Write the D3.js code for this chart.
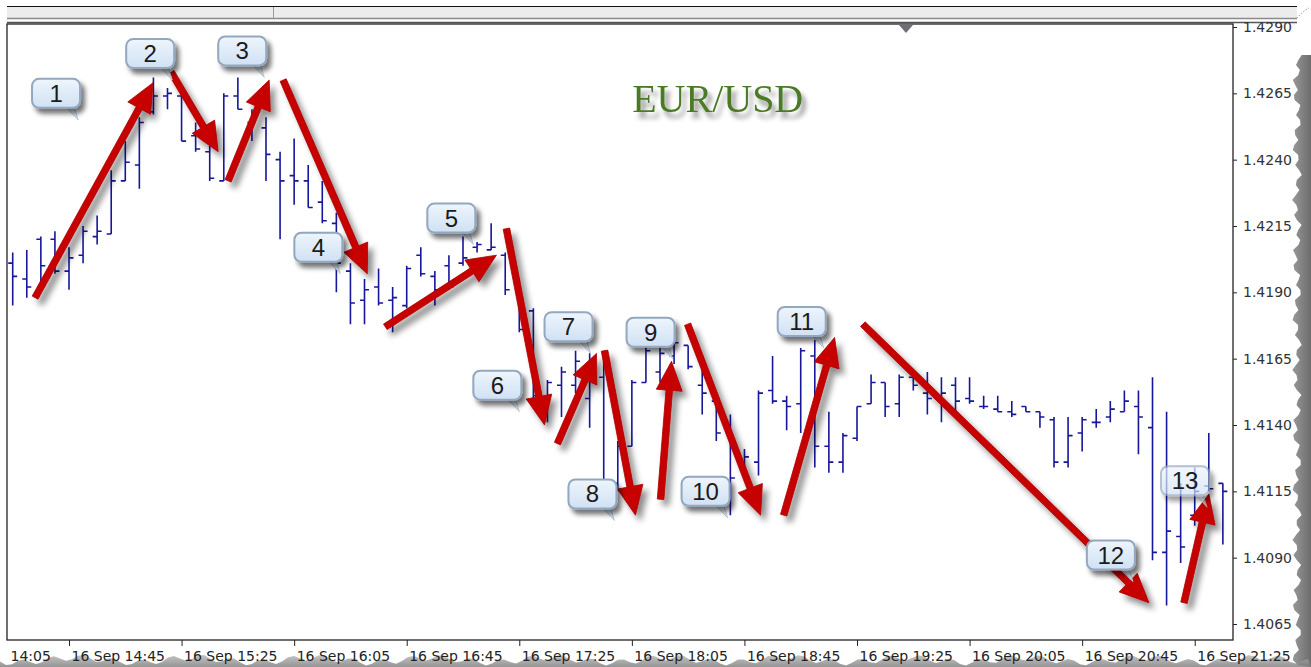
<!DOCTYPE html>
<html><head><meta charset="utf-8">
<script src="https://cdn.jsdelivr.net/npm/d3@7"></script>
<style>html,body{margin:0;padding:0;background:#fff;overflow:hidden}svg{display:block}</style>
</head><body>
<svg id="c" width="1311" height="667"></svg>
<script>
// ---------------- DATA ----------------
const chartTitle = "EUR/USD";
const barTimes = ["14:25","14:30","14:35","14:40","14:45","14:50","14:55",
"15:00","15:05","15:10","15:15","15:20","15:25","15:30","15:35","15:40","15:45","15:50","15:55",
"16:00","16:05","16:10","16:15","16:20","16:25","16:30","16:35","16:40","16:45","16:50","16:55",
"17:00","17:05","17:10","17:15","17:20","17:25","17:30","17:35","17:40","17:45","17:50","17:55",
"18:00","18:05","18:10","18:15","18:20","18:25","18:30","18:35","18:40","18:45","18:50","18:55",
"19:00","19:05","19:10","19:15","19:20","19:25","19:30","19:35","19:40","19:45","19:50","19:55",
"20:00","20:05","20:10","20:15","20:20","20:25","20:30","20:35","20:40","20:45","20:50","20:55",
"21:00","21:05","21:10","21:15","21:20","21:25","21:30","21:35"];
const openP = [1.4201,1.4195,1.4210,1.4210,1.4198,1.4204,1.4211,1.4212,1.4232,1.4238,
1.4258,1.4264,1.4264,1.4249,1.4243,1.4232,1.4264,1.4254,1.4252,1.4240,
1.4234,1.4232,1.4224,1.4216,1.4198,1.4187,1.4192,1.4187,1.4185,1.4204,
1.4196,1.4200,1.4201,1.4207,1.4206,1.4204,1.4193,1.4183,1.4147,1.4155,
1.4155,1.4150,1.4158,1.4118,1.4132,1.4156,1.4160,1.4166,1.4170,1.4155,
1.4149,1.4138,1.4123,1.4126,1.4153,1.4149,1.4148,1.4166,1.4132,1.4126,
1.4135,1.4148,1.4156,1.4148,1.4158,1.4152,1.4150,1.4155,1.4150,1.4147,
1.4146,1.4145,1.4147,1.4145,1.4142,1.4126,1.4137,1.4141,1.4143,1.4145,
1.4147,1.4139,1.4092,1.4098,1.4106,1.4117,1.4118];
const highP = [1.4205,1.4206,1.4211,1.4213,1.4207,1.4215,1.4219,1.4236,1.4247,1.4256,
1.4271,1.4267,1.4265,1.4254,1.4249,1.4265,1.4271,1.4259,1.4256,1.4243,
1.4248,1.4238,1.4232,1.4220,1.4201,1.4195,1.4199,1.4192,1.4200,1.4207,
1.4198,1.4204,1.4211,1.4209,1.4216,1.4205,1.4195,1.4184,1.4157,1.4162,
1.4168,1.4167,1.4168,1.4134,1.4157,1.4170,1.4175,1.4176,1.4170,1.4163,
1.4152,1.4144,1.4131,1.4153,1.4166,1.4151,1.4169,1.4172,1.4145,1.4137,
1.4147,1.4159,1.4156,1.4159,1.4158,1.4160,1.4158,1.4158,1.4158,1.4151,
1.4151,1.4149,1.4147,1.4145,1.4143,1.4143,1.4143,1.4146,1.4149,1.4153,
1.4153,1.4158,1.4145,1.4118,1.4124,1.4137,1.4118];
const lowP = [1.4185,1.4188,1.4191,1.4197,1.4191,1.4201,1.4208,1.4212,1.4232,1.4229,
1.4257,1.4259,1.4247,1.4243,1.4232,1.4232,1.4259,1.4247,1.4232,1.4210,
1.4223,1.4222,1.4216,1.4190,1.4178,1.4178,1.4185,1.4175,1.4184,1.4196,
1.4185,1.4191,1.4200,1.4205,1.4206,1.4189,1.4175,1.4147,1.4141,1.4143,
1.4152,1.4139,1.4115,1.4115,1.4132,1.4156,1.4156,1.4163,1.4161,1.4144,
1.4134,1.4106,1.4120,1.4121,1.4148,1.4138,1.4137,1.4124,1.4122,1.4122,
1.4134,1.4148,1.4143,1.4143,1.4153,1.4144,1.4141,1.4145,1.4148,1.4146,
1.4145,1.4143,1.4145,1.4139,1.4124,1.4124,1.4130,1.4139,1.4141,1.4145,
1.4129,1.4089,1.4072,1.4088,1.4102,1.4115,1.4095];
const closeP = [1.4196,1.4192,1.4200,1.4198,1.4203,1.4213,1.4213,1.4232,1.4239,1.4254,
1.4264,1.4265,1.4247,1.4244,1.4233,1.4264,1.4259,1.4256,1.4242,1.4232,
1.4232,1.4222,1.4217,1.4201,1.4186,1.4191,1.4186,1.4188,1.4199,1.4197,
1.4191,1.4192,1.4203,1.4208,1.4207,1.4191,1.4176,1.4151,1.4156,1.4160,
1.4164,1.4158,1.4116,1.4132,1.4156,1.4168,1.4167,1.4171,1.4162,1.4152,
1.4137,1.4120,1.4128,1.4152,1.4149,1.4147,1.4168,1.4132,1.4126,1.4136,
1.4147,1.4156,1.4147,1.4158,1.4155,1.4150,1.4152,1.4149,1.4149,1.4147,
1.4145,1.4144,1.4145,1.4143,1.4126,1.4136,1.4142,1.4141,1.4146,1.4149,
1.4143,1.4092,1.4100,1.4094,1.4115,1.4116,1.4115];
const priceTicks = [1.4065,1.4090,1.4115,1.4140,1.4165,1.4190,1.4215,1.4240,1.4265,1.4290];
const timeTicks = ["14:05","14:45","15:25","16:05","16:45","17:25","18:05","18:45","19:25","20:05","20:45","21:25"];
const dateLabel = "16 Sep";
// arrows: [bar position (index), price] -> [bar position, price]
const arrowFromBar = [1.59,11.26,15.31,19.22,26.48,35.09,38.71,42.06,46.04,47.96,54.79,60.41,83.24];
const arrowFromPrice = [1.4188,1.4273,1.4232,1.4270,1.4177,1.4214,1.4133,1.4168,1.4112,1.4178,1.4106,1.4178,1.4073];
const arrowToBar = [9.98,14.60,18.23,25.20,34.37,37.79,41.49,44.26,46.82,53.15,58.41,80.75,85.01];
const arrowToPrice = [1.4269,1.4243,1.4270,1.4197,1.4204,1.4140,1.4167,1.4106,1.4164,1.4106,1.4173,1.4073,1.4114];
// numbered callouts
const calloutText = ["1","2","3","4","5","6","7","8","9","10","11","12","13"];
const calloutBar = [3.08,9.77,16.31,21.72,31.17,34.44,39.50,41.20,45.33,49.24,56.07,78.04,83.31];
const calloutPrice = [1.4265,1.4280,1.4281,1.4207,1.4218,1.4155,1.4177,1.4114,1.4175,1.4115,1.4179,1.4091,1.4119];

// ---------------- CHART ----------------
const W = 1311, H = 667;
const plot = {left: 7, right: 1233, top: 24, bottom: 640};
const toMin = s => { const [h, m] = s.split(":").map(Number); return h * 60 + m; };
const barMin = barTimes.map(toMin);
const x = d3.scaleLinear()
  .domain([barMin[0] - 2.03, barMin[barMin.length - 1] + 3.6])
  .range([plot.left, plot.right]);
const xb = i => x(barMin[0] + i * 5);
const y = d3.scaleLinear().domain([1.4065, 1.4290]).range([624, 27]);

const svg = d3.select("#c");
const defs = svg.append("defs");

function shadowFilter(id, dx, dy, sd, op) {
  const f = defs.append("filter").attr("id", id)
    .attr("x", "-50%").attr("y", "-50%").attr("width", "200%").attr("height", "200%");
  f.append("feGaussianBlur").attr("in", "SourceAlpha").attr("stdDeviation", sd);
  f.append("feOffset").attr("dx", dx).attr("dy", dy).attr("result", "ob");
  f.append("feComponentTransfer").attr("in", "ob").attr("result", "oc")
    .append("feFuncA").attr("type", "linear").attr("slope", op);
  const m = f.append("feMerge");
  m.append("feMergeNode").attr("in", "oc");
  m.append("feMergeNode").attr("in", "SourceGraphic");
}
shadowFilter("shArrow", 5, 6, 3, 0.45);
shadowFilter("shBox", 4, 5, 2.5, 0.55);
shadowFilter("shTitle", 4, 6, 2.5, 0.45);

const gBox = defs.append("linearGradient").attr("id", "boxFill").attr("x1", 0).attr("y1", 0).attr("x2", 0).attr("y2", 1);
gBox.append("stop").attr("offset", 0).attr("stop-color", "#eef5fc");
gBox.append("stop").attr("offset", 1).attr("stop-color", "#d0e1f4");
const gR = defs.append("linearGradient").attr("id", "tearR").attr("x1", 0).attr("y1", 0).attr("x2", 1).attr("y2", 0);
gR.append("stop").attr("offset", 0).attr("stop-color", "#9a9a9a");
gR.append("stop").attr("offset", 1).attr("stop-color", "#6c6c6c");
const gB = defs.append("linearGradient").attr("id", "tearB").attr("x1", 0).attr("y1", 0).attr("x2", 0).attr("y2", 1);
gB.append("stop").attr("offset", 0).attr("stop-color", "#b5b5b5");
gB.append("stop").attr("offset", 1).attr("stop-color", "#7a7a7a");

svg.append("rect").attr("width", W).attr("height", H).attr("fill", "#fff");

// window chrome (toolbar band above the chart)
svg.append("rect").attr("x", 7).attr("y", 7).attr("width", 1290).attr("height", 11).attr("fill", "#ececec");
svg.append("line").attr("x1", 7).attr("x2", 1297).attr("y1", 6.5).attr("y2", 6.5).attr("stroke", "#111").attr("stroke-width", 1.2);
svg.append("line").attr("x1", 7).attr("x2", 1297).attr("y1", 18.5).attr("y2", 18.5).attr("stroke", "#8a8a8a").attr("stroke-width", 1.5);
svg.append("line").attr("x1", 273.5).attr("x2", 273.5).attr("y1", 7).attr("y2", 18).attr("stroke", "#9a9a9a");
svg.append("line").attr("x1", 7).attr("x2", 1297).attr("y1", 22.5).attr("y2", 22.5).attr("stroke", "#555").attr("stroke-width", 1.5);

// plot frame
svg.append("rect").attr("x", plot.left).attr("y", plot.top)
  .attr("width", plot.right - plot.left).attr("height", plot.bottom - plot.top)
  .attr("fill", "#fff").attr("stroke", "#222").attr("stroke-width", 1.3);
// chart shift marker
svg.append("path").attr("d", "M899,25 L913,25 L906,33 Z").attr("fill", "#6d6f74");

// torn edges (decorative)
(function(){
  let d = "M1311,55";
  for (let yy = 55; yy <= 667; yy += 5) {
    const off = 1297 + 3 * Math.sin(yy * 0.37) + 2 * Math.sin(yy * 0.11 + 1.3);
    d += ` L${off.toFixed(1)},${yy}`;
  }
  d += " L1311,667 Z";
  svg.append("path").attr("d", d).attr("fill", "url(#tearR)");
  svg.append("path").attr("d", "M1297,18 Q1302,12 1309,8").attr("fill", "none")
    .attr("stroke", "#666").attr("stroke-width", 1).attr("stroke-dasharray", "1,2");
  let b = "M0,667";
  for (let xx = 0; xx <= 1311; xx += 6) {
    const off = 660 + 3 * Math.sin(xx * 0.21) + 2.5 * Math.sin(xx * 0.053 + 0.7);
    b += ` L${xx},${off.toFixed(1)}`;
  }
  b += " L1311,667 Z";
  svg.append("path").attr("d", b).attr("fill", "url(#tearB)").attr("opacity", 0.8);
})();

// y axis
const yAxis = d3.axisRight(y).tickValues(priceTicks).tickFormat(d3.format(".4f")).tickSize(4).tickPadding(6);
const ya = svg.append("g").attr("transform", `translate(${plot.right},0)`).call(yAxis);
ya.select(".domain").remove();
ya.selectAll("line").attr("stroke", "#222");
ya.selectAll("text").attr("font-family", "DejaVu Sans, sans-serif").attr("font-size", 14).attr("fill", "#333");

// x axis
const xAxis = d3.axisBottom(x).tickValues(timeTicks.map(toMin))
  .tickFormat((d, i) => i === 0 ? timeTicks[i] : `${dateLabel} ${timeTicks[i]}`).tickSize(6).tickPadding(3);
const xa = svg.append("g").attr("transform", `translate(0,${plot.bottom})`).call(xAxis);
xa.select(".domain").remove();
xa.selectAll("line").attr("stroke", "#222");
xa.selectAll("text").attr("text-anchor", "start").attr("dx", 2).attr("dy", "0.85em")
  .attr("font-family", "DejaVu Sans, sans-serif").attr("font-size", 14).attr("fill", "#222");
// first label: only its visible part, starting at the left edge of the window
xa.selectAll("text").filter((d, i) => i === 0).attr("x", d => plot.left + 1 - x(d));

// OHLC bars
const clip = defs.append("clipPath").attr("id", "pc").append("rect")
  .attr("x", plot.left + 1).attr("y", plot.top + 1).attr("width", plot.right - plot.left - 2).attr("height", plot.bottom - plot.top - 2);
const gBars = svg.append("g").attr("clip-path", "url(#pc)");
gBars.selectAll("path.bar").data(barTimes).join("path").attr("class", "bar")
  .attr("d", (t, i) => {
    const cx = xb(i);
    return `M${cx},${y(highP[i])}V${y(lowP[i])}M${cx - 4.5},${y(openP[i])}H${cx}M${cx},${y(closeP[i])}H${cx + 4.5}`;
  })
  .attr("fill", "none").attr("stroke", "#17179a").attr("stroke-width", 1.6);

// title
svg.append("text").attr("x", xb(50.1)).attr("y", 112)
  .attr("text-anchor", "middle").attr("font-family", "Liberation Serif, serif").attr("font-size", 40)
  .attr("fill", "#4b7a26").attr("filter", "url(#shTitle)").text(chartTitle);

// arrows
function arrowPath(x0, y0, x1, y1) {
  const dx = x1 - x0, dy = y1 - y0, len = Math.hypot(dx, dy);
  const ux = dx / len, uy = dy / len, nx = -uy, ny = ux;
  const hl = 29, hw = 13, sw = 3.3;
  const bx = x1 - ux * hl, by = y1 - uy * hl;
  const p = [
    [x0 + nx * sw, y0 + ny * sw], [bx + nx * sw, by + ny * sw], [bx + nx * hw, by + ny * hw],
    [x1, y1], [bx - nx * hw, by - ny * hw], [bx - nx * sw, by - ny * sw], [x0 - nx * sw, y0 - ny * sw]];
  return "M" + p.map(q => q[0].toFixed(1) + "," + q[1].toFixed(1)).join("L") + "Z";
}
const gArr = svg.append("g").attr("filter", "url(#shArrow)");
gArr.selectAll("path").data(arrowFromBar).join("path")
  .attr("d", (d, i) => arrowPath(xb(arrowFromBar[i]), y(arrowFromPrice[i]), xb(arrowToBar[i]), y(arrowToPrice[i])))
  .attr("fill", "#c70000").attr("stroke", "#a80000").attr("stroke-width", 0.8).attr("stroke-linejoin", "round");

// callouts
const bw = 48, bh = 29;
const gC = svg.selectAll("g.callout").data(calloutText).join("g").attr("class", "callout")
  .attr("transform", (d, i) => `translate(${xb(calloutBar[i])},${y(calloutPrice[i])})`);
gC.append("path")
  .attr("d", `M${bw/2 - 14},${bh/2 - 1} L${bw/2 - 6},${bh/2 - 1} L${bw/2 - 2},${bh/2 + 12} Z`)
  .attr("fill", "#dfe9f4").attr("stroke", "#b9c8d8").attr("stroke-width", 1)
  .attr("opacity", (d, i) => i === 12 ? 0.7 : 1);
gC.append("rect").attr("x", -bw / 2).attr("y", -bh / 2).attr("width", bw).attr("height", bh)
  .attr("rx", 7).attr("ry", 7).attr("fill", "url(#boxFill)").attr("stroke", "#93a7bf").attr("stroke-width", 2)
  .attr("filter", "url(#shBox)").attr("opacity", (d, i) => i === 12 ? 0.7 : 1);
gC.append("text").attr("text-anchor", "middle").attr("y", 8.5)
  .attr("font-family", "Liberation Sans, Arial, sans-serif").attr("font-size", 24).attr("fill", "#1b1b1b")
  .text(d => d);
</script>
</body></html>
